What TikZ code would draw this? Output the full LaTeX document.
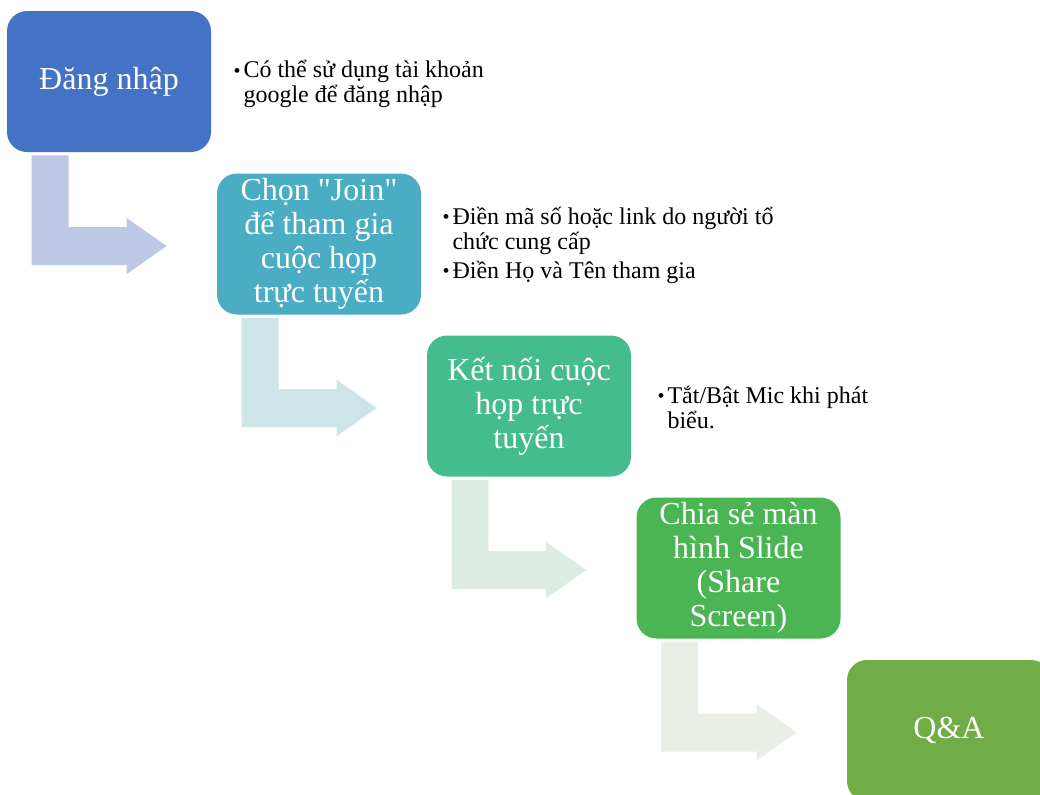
\documentclass[tikz,border=0pt]{standalone}
\usepackage{fontspec}
\setmainfont{Liberation Serif}[Ligatures=TeXOff]
\usetikzlibrary{positioning,calc}

\definecolor{boxA}{RGB}{68,114,196}
\definecolor{boxB}{RGB}{74,173,195}
\definecolor{boxC}{RGB}{69,188,141}
\definecolor{boxD}{RGB}{75,181,84}
\definecolor{boxE}{RGB}{112,173,71}
\definecolor{arrA}{RGB}{189,200,228}
\definecolor{arrB}{RGB}{205,229,232}
\definecolor{arrC}{RGB}{220,236,227}
\definecolor{arrD}{RGB}{233,239,231}

\newcommand{\itm}{\makebox[7.5pt][l]{\raisebox{0.5pt}{\fontsize{15}{15}\selectfont\textbullet}}}
\newcommand{\ind}{\hspace*{7.5pt}}

% bent arrow from one step to the next
\newcommand{\bentarrow}[3]{%
  \coordinate (s) at ($(#1.south west)+(25,3)$);
  \coordinate (b) at ($(#2.west)+(0,21)$);
  \fill[#3] (s) -- ++(37,0) |- ($(#2.west)+(-90,-17)$) -- ++(0,-9)
    -- ($(#2.west)+(-50,2)$) -- ($(#2.west)+(-90,30)$) -- ++(0,-9)
    -- (s |- b) -- cycle;}

\begin{document}
\begin{tikzpicture}[x=0.75pt,y=-0.75pt,
  stepbox/.style={rounded corners=15pt, minimum width=153pt,
    minimum height=105.75pt, inner sep=0pt, text=white, align=center,
    font=\fontsize{24}{25.5}\selectfont},
  note/.style={inner sep=0pt, align=left, anchor=west,
    font=\fontsize{18}{18.75}\selectfont}]
   \clip (0,0) rectangle (1040,794);

   \node[stepbox, fill=boxA] (login)   at (109,81.5) {Đăng nhập};
   \node[stepbox, fill=boxB] (join)    at (319,244)  {Chọn "Join"\\để tham gia\\cuộc họp\\trực tuyến};
   \node[stepbox, fill=boxC] (connect) at (529,406)  {Kết nối cuộc\\họp trực\\tuyến};
   \node[stepbox, fill=boxD] (share)   at (738.5,568) {Chia sẻ màn\\hình Slide\\(Share\\Screen)};
   \node[stepbox, fill=boxE] (qa)      at (949,730.5) {Q\&A};

   \node[note, right=16.5pt of login, yshift=-2pt] (loginnote)
     {\itm Có thể sử dụng tài khoản\\\ind google để đăng nhập};
   \node[note, right=15.75pt of join, yshift=-0.75pt] (joinnote)
     {\itm Điền mã số hoặc link do người tổ\\\ind chức cung cấp\\[3pt]\itm Điền Họ và Tên tham gia};
   \node[note, right=19.5pt of connect, yshift=-1pt] (connectnote)
     {\itm Tắt/Bật Mic khi phát\\\ind biểu.};

   \bentarrow{login}{join}{arrA}
   \bentarrow{join}{connect}{arrB}
   \bentarrow{connect}{share}{arrC}
   \bentarrow{share}{qa}{arrD}

\end{tikzpicture}
\end{document}
